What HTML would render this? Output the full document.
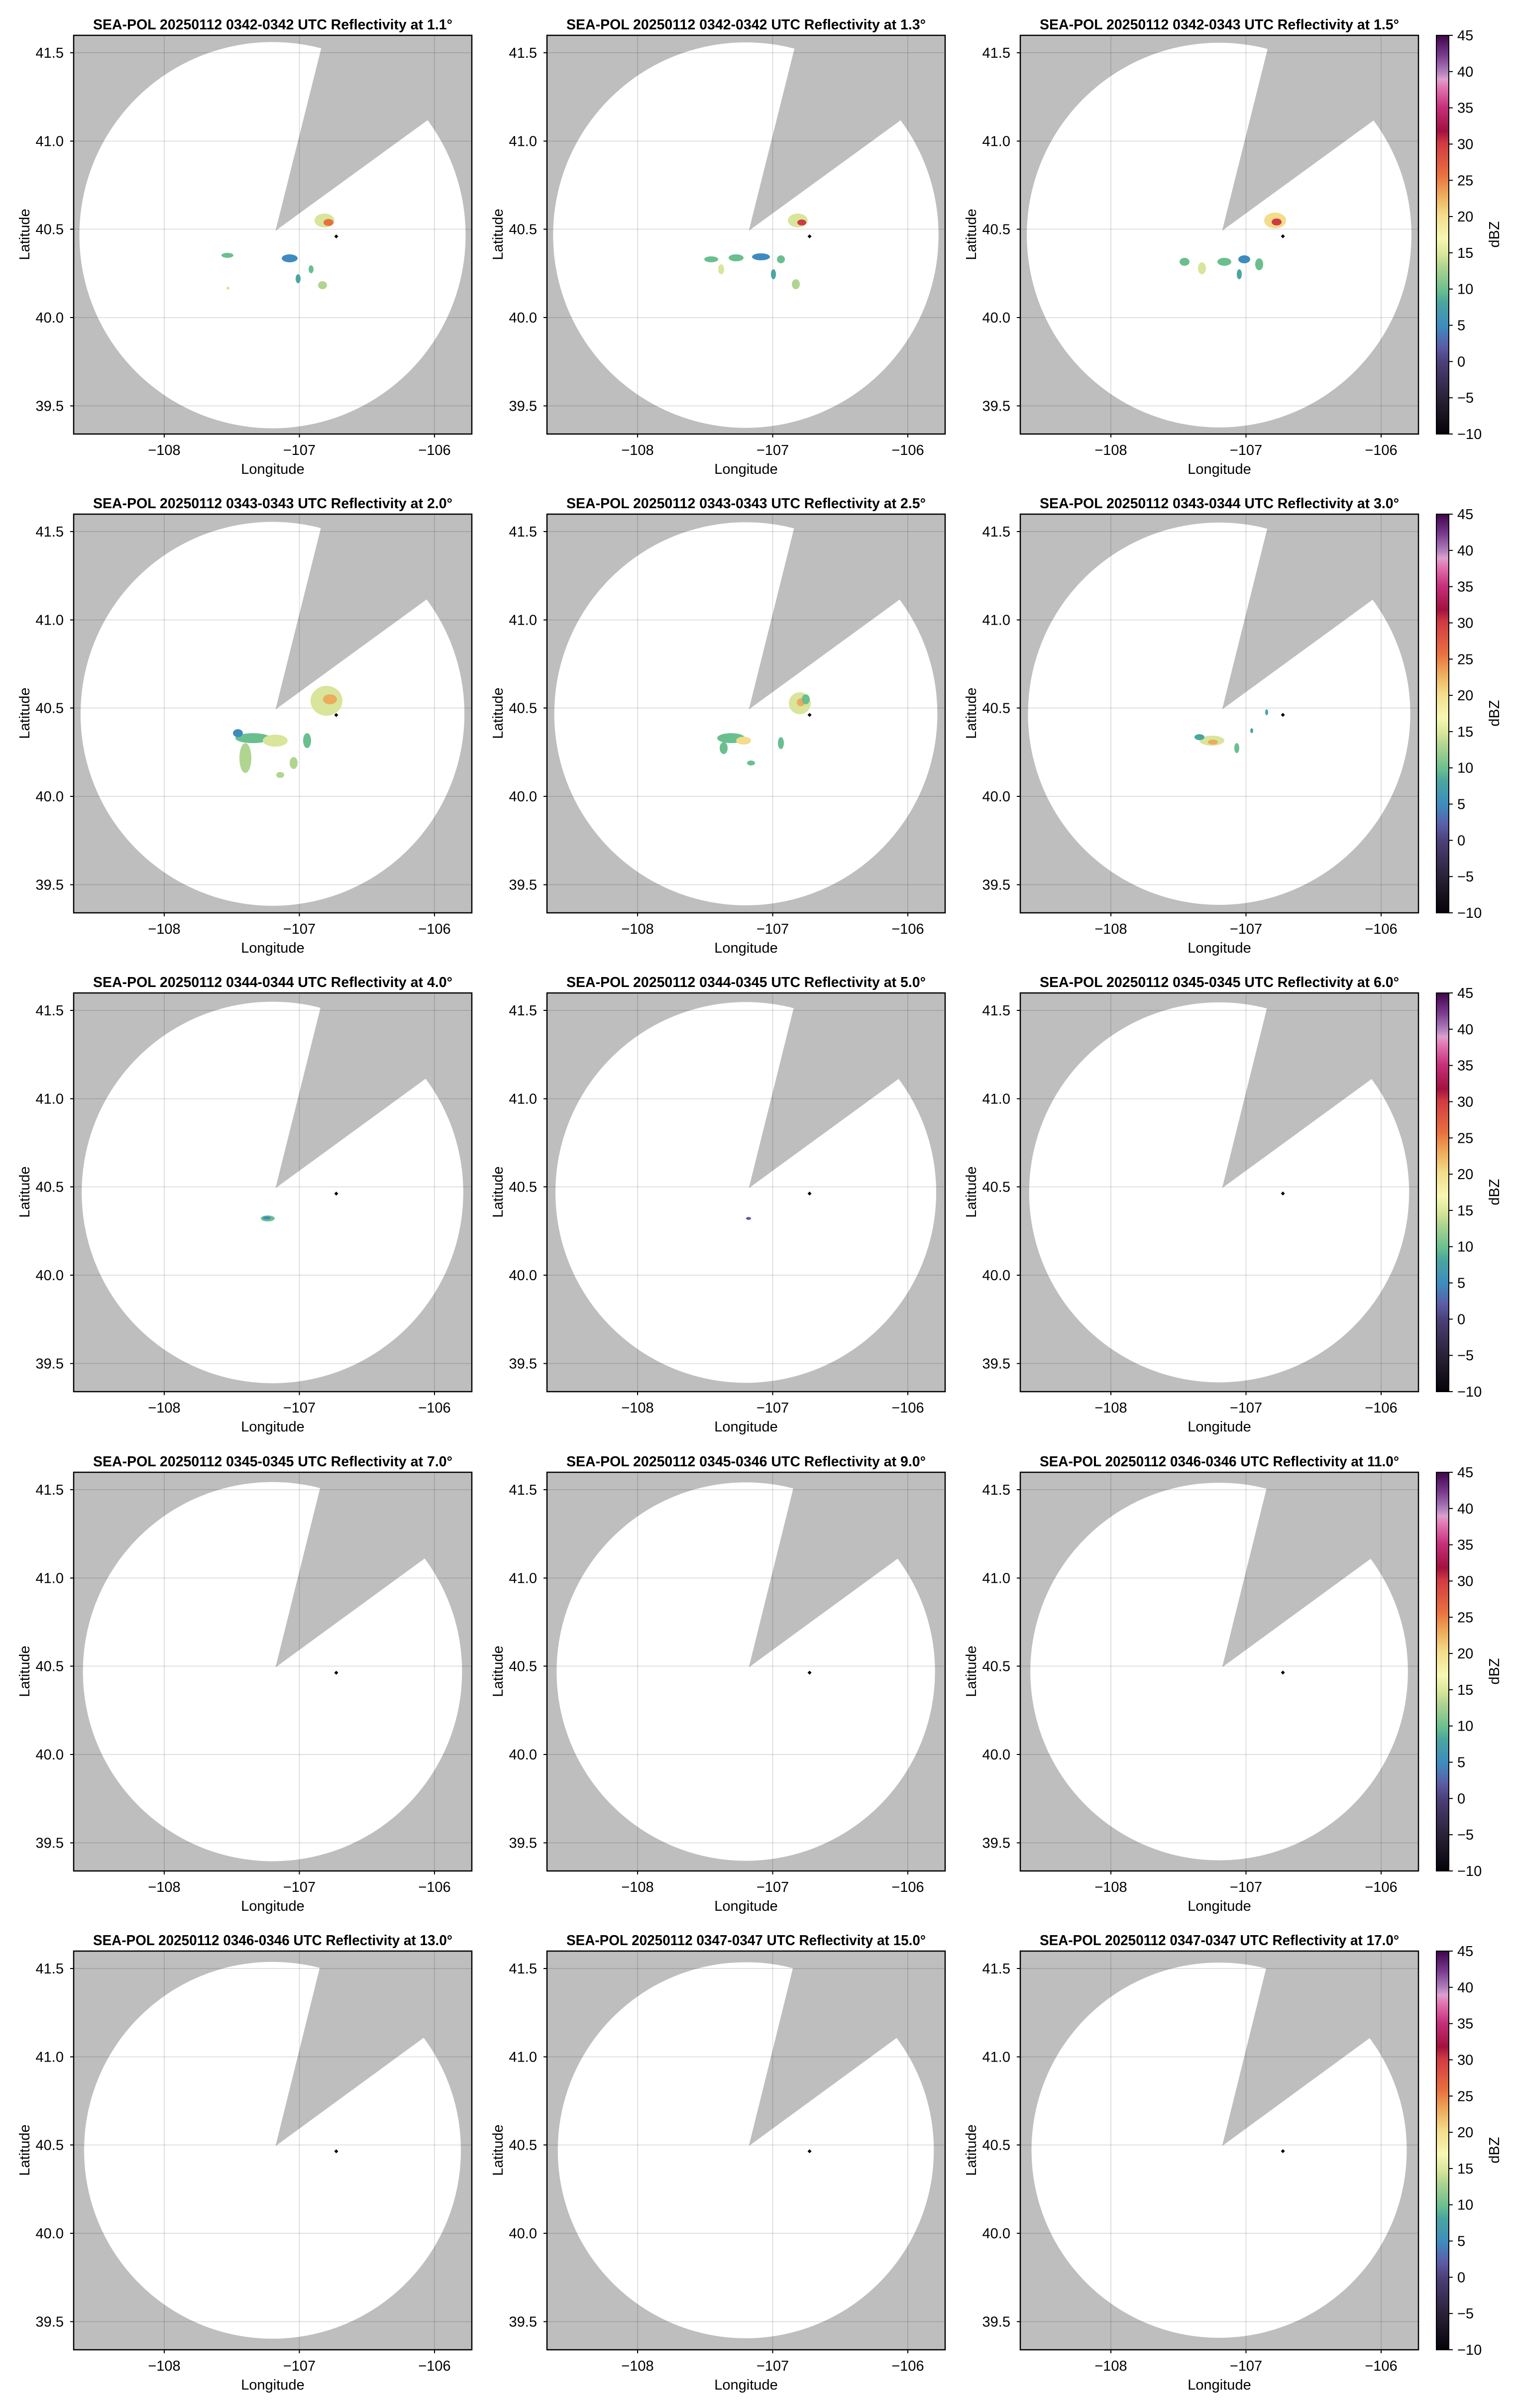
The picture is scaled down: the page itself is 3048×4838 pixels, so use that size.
<!DOCTYPE html>
<html><head><meta charset="utf-8">
<style>
html,body{margin:0;padding:0;background:#fff;}
svg{display:block;font-family:"Liberation Sans",Arial,sans-serif;}
</style></head>
<body>
<svg id="s" width="3048" height="4838" viewBox="0 0 3048 4838" xmlns="http://www.w3.org/2000/svg">
<defs>
<linearGradient id="cb" x1="0" y1="1" x2="0" y2="0">
<stop offset="0" stop-color="#050308"/>
<stop offset="0.09" stop-color="#2a2137"/>
<stop offset="0.18" stop-color="#4c3f78"/>
<stop offset="0.22" stop-color="#5b5da8"/>
<stop offset="0.27" stop-color="#3e8cbf"/>
<stop offset="0.33" stop-color="#4aa6a0"/>
<stop offset="0.36" stop-color="#6abf8f"/>
<stop offset="0.42" stop-color="#b0d590"/>
<stop offset="0.45" stop-color="#d8e59a"/>
<stop offset="0.49" stop-color="#f7f7b2"/>
<stop offset="0.55" stop-color="#f3dc8a"/>
<stop offset="0.60" stop-color="#edab5d"/>
<stop offset="0.65" stop-color="#e9703e"/>
<stop offset="0.73" stop-color="#d03a43"/>
<stop offset="0.76" stop-color="#a2123f"/>
<stop offset="0.82" stop-color="#c6307a"/>
<stop offset="0.87" stop-color="#e277b2"/>
<stop offset="0.89" stop-color="#dc9fce"/>
<stop offset="0.91" stop-color="#ad7db8"/>
<stop offset="0.95" stop-color="#7a3a8e"/>
<stop offset="1" stop-color="#40054d"/>
</linearGradient>
</defs>
</svg>
<script>
const S=document.getElementById('s');
let out='';
const titles=[
"SEA-POL 20250112 0342-0342 UTC Reflectivity at 1.1°",
"SEA-POL 20250112 0342-0342 UTC Reflectivity at 1.3°",
"SEA-POL 20250112 0342-0343 UTC Reflectivity at 1.5°",
"SEA-POL 20250112 0343-0343 UTC Reflectivity at 2.0°",
"SEA-POL 20250112 0343-0343 UTC Reflectivity at 2.5°",
"SEA-POL 20250112 0343-0344 UTC Reflectivity at 3.0°",
"SEA-POL 20250112 0344-0344 UTC Reflectivity at 4.0°",
"SEA-POL 20250112 0344-0345 UTC Reflectivity at 5.0°",
"SEA-POL 20250112 0345-0345 UTC Reflectivity at 6.0°",
"SEA-POL 20250112 0345-0345 UTC Reflectivity at 7.0°",
"SEA-POL 20250112 0345-0346 UTC Reflectivity at 9.0°",
"SEA-POL 20250112 0346-0346 UTC Reflectivity at 11.0°",
"SEA-POL 20250112 0346-0346 UTC Reflectivity at 13.0°",
"SEA-POL 20250112 0347-0347 UTC Reflectivity at 15.0°",
"SEA-POL 20250112 0347-0347 UTC Reflectivity at 17.0°"];
const G='#6abf8f',Y='#d8e59a',B='#3e8cbf',T='#4aa6a0',L='#b0d590',O='#edab5d',R='#d03a43',P='#f3dc8a';
const blobs=[
[[504,372,20,14,Y],[512,376,10,7,'#e9703e'],[309,442,12,5,G],[434,448,16,8,B],[477,470,5,8,G],[451,489,5,9,T],[500,502,9,8,L],[310,508,3,3,Y]],
[[504,372,20,14,Y],[512,376,9,6,R],[330,450,14,6,G],[380,447,15,7,G],[430,445,18,7,B],[470,450,8,8,G],[350,470,6,10,Y],[500,500,8,10,L],[455,480,5,10,T]],
[[512,372,22,16,P],[515,375,10,7,R],[330,455,10,8,G],[365,468,8,12,Y],[410,455,14,8,G],[450,450,12,8,B],[480,460,8,12,G],[440,480,5,10,T]],
[[508,375,32,30,Y],[515,372,14,10,O],[360,450,35,10,G],[405,455,25,12,Y],[345,490,12,30,L],[469,455,8,15,G],[442,500,8,12,L],[415,524,8,6,L],[330,440,10,8,B]],
[[508,380,22,22,Y],[510,378,8,8,O],[370,450,28,10,G],[395,455,15,8,P],[355,470,8,12,G],[470,460,6,12,G],[410,500,8,5,G],[520,372,8,10,G]],
[[385,455,25,10,Y],[387,458,10,5,O],[360,448,10,6,T],[435,470,5,10,G],[465,435,3,5,T],[495,398,3,6,T]],
[[390,453,14,6,G],[388,452,8,3,B]],
[[405,453,5,3,'#5b5da8']],
[],[],[],[],[],[],[]];
const colX=[148,1099,2050], rowY=[71,1033,1995,2958,3920];
for(let r=0;r<5;r++)for(let c=0;c<3;c++){
 const i=r*3+c, x0=colX[c], y0=rowY[r];
 const f=i/14;
 const rad=388-11*f, cy=401.5-1.5*f;
 const ccx=399.5;
 out+=`<g transform="translate(${x0},${y0})">`;
 out+=`<svg x="0" y="0" width="800" height="801" overflow="hidden">`;
 out+=`<rect width="800" height="801" fill="#bebebe"/>`;
 out+=`<ellipse cx="${ccx}" cy="${cy}" rx="${rad}" ry="${rad}" fill="#fff"/>`;
 const ax=405.6, ay=392.6-1*f;
 const p1x=497.4-3.8*f, p1y=26+10*f, p2x=711.7-10*f, p2y=170+5*f;
 const d1x=(p1x-ax)*6,d1y=(p1y-ay)*6,d2x=(p2x-ax)*6,d2y=(p2y-ay)*6;
 out+=`<polygon points="${ax},${ay} ${ax+d1x},${ay+d1y} ${ax+d2x},${ay+d2y}" fill="#bebebe"/>`;
 const gx=[182,453.5,725], gy=[35,212.5,389.5,567,744.5];
 for(const g of gx) out+=`<line x1="${g}" y1="0" x2="${g}" y2="801" stroke="rgba(0,0,0,0.12)" stroke-width="2"/>`;
 for(const g of gy) out+=`<line x1="0" y1="${g}" x2="800" y2="${g}" stroke="rgba(0,0,0,0.12)" stroke-width="2"/>`;
 for(const b of blobs[i]) out+=`<ellipse cx="${b[0]}" cy="${b[1]}" rx="${b[2]}" ry="${b[3]}" fill="${b[4]}"/>`;
 out+=`<path d="M523.6 ${404-2*f}l4 -4l4 4l-4 4z" fill="#000"/>`;
 out+=`</svg>`;
 out+=`<rect x="0" y="0" width="800" height="801" fill="none" stroke="#000" stroke-width="2.5"/>`;
 const lx=['\u2212108','\u2212107','\u2212106'];
 gx.forEach((g,k)=>{out+=`<line x1="${g}" y1="801" x2="${g}" y2="808" stroke="#000" stroke-width="2"/><text x="${g}" y="843" font-size="29" text-anchor="middle">${lx[k]}</text>`;});
 const ly=['41.5','41.0','40.5','40.0','39.5'];
 gy.forEach((g,k)=>{out+=`<line x1="-7" y1="${g}" x2="0" y2="${g}" stroke="#000" stroke-width="2"/><text x="-20" y="${g+10}" font-size="29" text-anchor="end">${ly[k]}</text>`;});
 out+=`<text x="400" y="881" font-size="29" text-anchor="middle">Longitude</text>`;
 out+=`<text transform="translate(-89,400) rotate(-90)" font-size="29" text-anchor="middle">Latitude</text>`;
 out+=`<text x="400" y="-12" font-size="29" font-weight="bold" text-anchor="middle" textLength="${titles[i].length>50?722:710}" lengthAdjust="spacingAndGlyphs">${titles[i]}</text>`;
 out+=`</g>`;
 if(c==2){
  out+=`<g transform="translate(2886,${y0})">`;
  out+=`<rect x="0" y="0" width="25" height="801" fill="url(#cb)"/>`;
  out+=`<rect x="0" y="0" width="25" height="801" fill="none" stroke="#000" stroke-width="2"/>`;
  for(let k=0;k<12;k++){const v=-10+5*k;const yy=801-k*801/11;
   out+=`<line x1="25" y1="${yy}" x2="33" y2="${yy}" stroke="#000" stroke-width="2"/><text x="42" y="${yy+10}" font-size="29">${v<0?'\u2212'+(-v):v}</text>`;}
  out+=`<text transform="translate(126,400) rotate(-90)" font-size="29" text-anchor="middle">dBZ</text>`;
  out+=`</g>`;
 }
}
S.insertAdjacentHTML('beforeend',out);
</script>
</body></html>
